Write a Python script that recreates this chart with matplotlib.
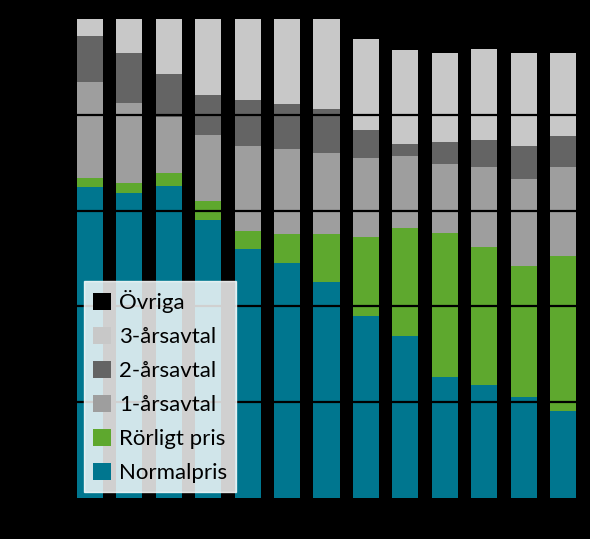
import matplotlib.pyplot as plt
import numpy as np

# cumulative tops, converted to segment shares below
years = [str(y) for y in range(2000, 2013)]
normal_top = [65.0, 63.6, 65.1, 58.0, 52.0, 49.0, 45.0, 38.1, 33.9, 25.2, 23.6, 21.1, 18.2]
rorligt_top = [66.9, 65.8, 67.9, 62.0, 55.8, 55.2, 55.2, 54.4, 56.4, 55.3, 52.5, 48.4, 50.6]
ar1_top = [86.9, 82.5, 79.5, 75.8, 73.5, 72.9, 72.0, 71.0, 71.3, 69.8, 69.2, 66.6, 69.0]
ar2_top = [96.4, 92.9, 88.6, 84.2, 83.1, 82.3, 81.2, 76.9, 74.0, 74.3, 74.7, 73.5, 75.5]
ar3_top = [100, 100, 100, 100, 100, 100, 100, 95.8, 93.5, 92.8, 93.8, 93.0, 93.0]

tops = np.array([normal_top, rorligt_top, ar1_top, ar2_top, ar3_top, [100] * 13])
shares = np.diff(np.vstack([np.zeros(13), tops]), axis=0)

labels = ['Normalpris', 'Rörligt pris', '1-årsavtal', '2-årsavtal', '3-årsavtal', 'Övriga']
colors = ['#00768f', '#5ea82e', '#9e9e9e', '#646464', '#c8c8c8', '#000000']

fig = plt.figure(figsize=(5.9, 5.39), dpi=100, facecolor='black')
ax = fig.add_axes([70 / 590, 41 / 539, 513 / 590, 479 / 539])
ax.set_facecolor('black')

x = np.arange(len(years))
bottom = np.zeros(len(years))
handles = []
for vals, lab, col in zip(shares, labels, colors):
    b = ax.bar(x, vals, 0.66, bottom=bottom, color=col, label=lab, zorder=2)
    handles.append(b)
    bottom += vals

for g in [20, 40, 60, 80]:
    ax.axhline(g, color='black', lw=1.6, zorder=3)

ax.set_xlim(-0.5, 12.5)
ax.set_ylim(0, 100)
ax.set_xticks(x)
ax.set_xticklabels(years, color='black')
ax.tick_params(colors='black', length=0)
for s in ax.spines.values():
    s.set_visible(False)

leg = ax.legend(handles[::-1], labels[::-1], loc='upper left',
                bbox_to_anchor=(0.027, 0.453), borderaxespad=0,
                frameon=True, fancybox=False, framealpha=0.82,
                edgecolor='white', facecolor='white',
                prop={'family': 'Lato', 'size': 16},
                handlelength=0.8, handleheight=0.8, handletextpad=0.4,
                labelspacing=0.62, borderpad=0.4)
leg.set_zorder(5)

fig.savefig('out.png', facecolor='black')
